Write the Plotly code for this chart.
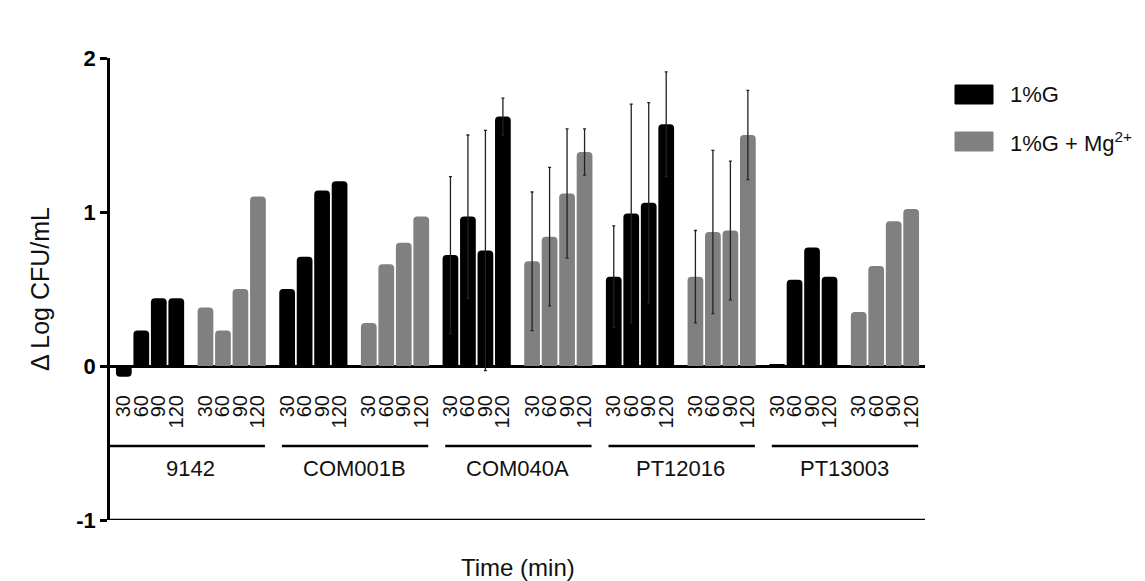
import plotly.graph_objects as go

# ---------------- data ----------------
strains = ["9142", "COM001B", "COM040A", "PT12016", "PT13003"]
times = ["30", "60", "90", "120"]
series_names = ["1%G", "1%G + Mg<sup>2+</sup>"]

g_vals = [-0.07, 0.23, 0.44, 0.44,
          0.50, 0.71, 1.14, 1.20,
          0.72, 0.97, 0.75, 1.62,
          0.58, 0.99, 1.06, 1.57,
          0.01, 0.56, 0.77, 0.58]
g_err = [None, None, None, None,
         None, None, None, None,
         0.51, 0.53, 0.78, 0.12,
         0.33, 0.71, 0.65, 0.34,
         None, None, None, None]

mg_vals = [0.38, 0.23, 0.50, 1.10,
           0.28, 0.66, 0.80, 0.97,
           0.68, 0.84, 1.12, 1.39,
           0.58, 0.87, 0.88, 1.50,
           0.35, 0.65, 0.94, 1.02]
mg_err = [None, None, None, None,
          None, None, None, None,
          0.45, 0.45, 0.42, 0.15,
          0.30, 0.53, 0.45, 0.29,
          None, None, None, None]

# ---------------- style ----------------
FONT = "Liberation Sans, Arial, sans-serif"
COLORS = ["#000000", "#808080"]
PERIOD = 4.67          # bars per sub-group (4) + gap between sub-groups
BAR_W = 0.9
L, R, T, B = 110, 220, 58, 61
W, H = 1145, 581

n_t = len(times)


def positions(series_idx):
    xs = []
    for s in range(len(strains)):
        for j in range(n_t):
            xs.append((2 * s + series_idx) * PERIOD + j)
    return xs


fig = go.Figure()
for i, (vals, errs) in enumerate([(g_vals, g_err), (mg_vals, mg_err)]):
    xs = positions(i)
    # bars with error bars
    idx_e = [k for k, e in enumerate(errs) if e is not None]
    idx_n = [k for k, e in enumerate(errs) if e is None]
    fig.add_trace(go.Bar(
        x=[xs[k] for k in idx_n], y=[vals[k] for k in idx_n], width=BAR_W,
        name=series_names[i], legendgroup=str(i),
        marker=dict(color=COLORS[i], line=dict(width=0), cornerradius=4),
        showlegend=False,
    ))
    fig.add_trace(go.Bar(
        x=[xs[k] for k in idx_e], y=[vals[k] for k in idx_e], width=BAR_W,
        name=series_names[i], legendgroup=str(i),
        marker=dict(color=COLORS[i], line=dict(width=0), cornerradius=4),
        error_y=dict(type="data", array=[errs[k] for k in idx_e], visible=True,
                     color="#222222", thickness=1.3, width=1.5),
        showlegend=False,
    ))

all_x = sorted(positions(0) + positions(1))
tick_text = [times[k % n_t] for k in range(len(all_x))]

x_min = -0.5 - 0.29
x_max = (2 * len(strains) - 1) * PERIOD + (n_t - 1) + 0.5 + 0.29

y_min, y_max = -1, 2

fig.update_layout(
    width=W, height=H,
    margin=dict(l=L, r=R, t=T, b=B),
    plot_bgcolor="white", paper_bgcolor="white",
    font=dict(family=FONT, size=20, color="#111111"),
    barmode="overlay",
    xaxis=dict(
        range=[x_min, x_max],
        tickvals=all_x, ticktext=tick_text,
        tickangle=-90,
        anchor="free", position=(0 - y_min) / (y_max - y_min),
        showline=False, showgrid=False, zeroline=False,
        ticks="", ticklabelstandoff=24,
        tickfont=dict(size=20, family=FONT),
    ),
    yaxis=dict(
        range=[y_min, y_max],
        tickvals=[-1, 0, 1, 2], ticktext=["-1", "0", "1", "2"],
        showline=True, linecolor="black", linewidth=2.5,
        ticks="outside", ticklen=7, tickwidth=2.5, tickcolor="black",
        showgrid=False,
        zeroline=True, zerolinecolor="black", zerolinewidth=2.5,
        tickfont=dict(size=22, family=FONT, weight="bold", color="black"),
    ),
)

# bottom axis line at y = -1
fig.add_shape(type="line", xref="paper", yref="y", x0=0, x1=1, y0=y_min, y1=y_min,
              line=dict(color="black", width=2.5))

# group brackets and labels
for s, name in enumerate(strains):
    first = 2 * s * PERIOD
    last = (2 * s + 1) * PERIOD + (n_t - 1)
    x0 = first - 0.3 if s > 0 else x_min
    fig.add_shape(type="line", xref="x", yref="y",
                  x0=x0, x1=last + 0.4, y0=-0.52, y1=-0.52,
                  line=dict(color="black", width=2.5))
    fig.add_annotation(x=(first + last) / 2, y=-0.665, xref="x", yref="y",
                       text=name, showarrow=False, font=dict(size=22, family=FONT),
                       xanchor="center", yanchor="middle")

# axis titles
fig.add_annotation(x=0.5, y=0, xref="paper", yref="paper", yshift=-47,
                   text="Time (min)", showarrow=False,
                   font=dict(size=24, family=FONT), xanchor="center", yanchor="middle")
fig.add_annotation(x=0, y=0.5, xref="paper", yref="paper", xshift=-70,
                   text="Δ Log CFU/mL", showarrow=False, textangle=-90,
                   font=dict(size=25, family=FONT), xanchor="center", yanchor="middle")


# legend drawn manually
def px_x(p):
    return (p - L) / (W - L - R)


def px_y(p):
    return (H - B - p) / (H - T - B)


legend_rows = [(94.5, COLORS[0], series_names[0]), (141.5, COLORS[1], series_names[1])]
for cy, col, label in legend_rows:
    fig.add_shape(type="rect", xref="paper", yref="paper",
                  x0=px_x(955), x1=px_x(993), y0=px_y(cy + 9.5), y1=px_y(cy - 9.5),
                  fillcolor=col, line=dict(color=col, width=1))
    fig.add_annotation(x=px_x(1008), y=px_y(cy), xref="paper", yref="paper",
                       text=label, showarrow=False, xanchor="left", yanchor="middle",
                       font=dict(size=22, family=FONT))

fig.write_html("out.html")
